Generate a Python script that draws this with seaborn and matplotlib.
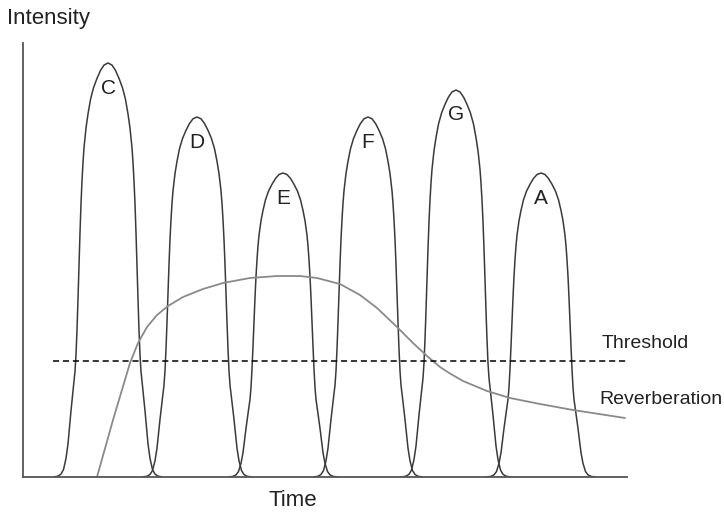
import numpy as np
import pandas as pd
import seaborn as sns
import matplotlib
matplotlib.use("Agg")
import matplotlib.pyplot as plt

sns.set_theme(style="white")
plt.rcParams['font.family'] = ['Liberation Sans', 'DejaVu Sans']

# ---- data (arbitrary units) ----
peak_labels = ['C', 'D', 'E', 'F', 'G', 'A']
peak_centers = [85, 174, 260, 345, 433, 518]
peak_heights = [414, 360, 304, 360, 387, 304]

# half-profile of one pulse: offset from centre vs. fraction of peak height
profile_offset = [0, 4, 7.5, 11, 14.5, 17.5, 20, 22, 24, 25, 26, 27, 28, 29, 30, 31, 32,
                  33, 34.5, 37, 40, 42, 44.5, 47, 50, 55]
profile_level = [1.0, 0.995, 0.982, 0.963, 0.94, 0.912, 0.877, 0.843, 0.795, 0.76, 0.715,
                 0.66, 0.59, 0.51, 0.43, 0.355, 0.295, 0.255, 0.22, 0.16, 0.08, 0.045,
                 0.018, 0.007, 0.002, 0.0]

reverb_time = [74, 90, 107, 115, 124, 134, 145, 160, 180, 200, 227, 254, 277, 294, 317,
               337, 354, 374, 390, 404, 417, 427, 440, 464, 487, 517, 550, 602]
reverb_level = [0, 57, 114, 134, 150, 162, 171, 180, 188, 194, 199, 201, 201, 199, 193,
                182, 169, 150, 134, 121, 110, 103.5, 96, 86, 79, 73, 67, 59]

threshold_level = 116.5
threshold_span = [30, 604]

# ---- build pulse table ----
off = np.array(profile_offset, dtype=float)
lev = np.array(profile_level, dtype=float)
rows = []
for lab, c, h in zip(peak_labels, peak_centers, peak_heights):
    xs = np.concatenate([c - off[::-1], c + off[1:]])
    ys = h * np.concatenate([lev[::-1], lev[1:]])
    for x, y in zip(xs, ys):
        rows.append((lab, x, y))
pulses = pd.DataFrame(rows, columns=['peak', 'time', 'intensity'])

W, H = 724, 513
fig = plt.figure(figsize=(W / 100, H / 100), dpi=100)
ax = fig.add_axes([23 / W, 36 / H, 604 / W, 434 / H])

sns.lineplot(data=pulses, x='time', y='intensity', units='peak', estimator=None,
             sort=False, color='#3a3a3a', linewidth=1.1, ax=ax)
sns.lineplot(x=reverb_time, y=reverb_level, sort=False, estimator=None,
             color='#8a8a8a', linewidth=1.3, ax=ax)
sns.lineplot(x=threshold_span, y=[threshold_level, threshold_level], estimator=None,
             color='black', linewidth=1.1, linestyle=(0, (4, 2.5)), ax=ax)

for lab, c, h in zip(peak_labels, peak_centers, peak_heights):
    ax.text(c, h - 25, lab, ha='center', va='center', fontsize=15, color='#222222')

ax.set_xlim(0, 604)
ax.set_ylim(0, 434)
ax.set_xticks([])
ax.set_yticks([])
ax.set_xlabel('')
ax.set_ylabel('')
for s in ['top', 'right']:
    ax.spines[s].set_visible(False)
for s in ['left', 'bottom']:
    ax.spines[s].set_color('#555555')
    ax.spines[s].set_linewidth(1.3)

fig.text(7 / W, 1 - 19 / H, 'Intensity', ha='left', va='center', fontsize=16, color='#222222')
fig.text(293 / W, 1 - 501 / H, 'Time', ha='center', va='center', fontsize=16, color='#222222')
ax.text(579, 134, 'Threshold', ha='left', va='center', fontsize=14, color='#222222',
        clip_on=False)
ax.text(576, 77, 'Reverberation', ha='left', va='center', fontsize=14, color='#222222',
        clip_on=False)

fig.savefig('out.png', dpi=100)
